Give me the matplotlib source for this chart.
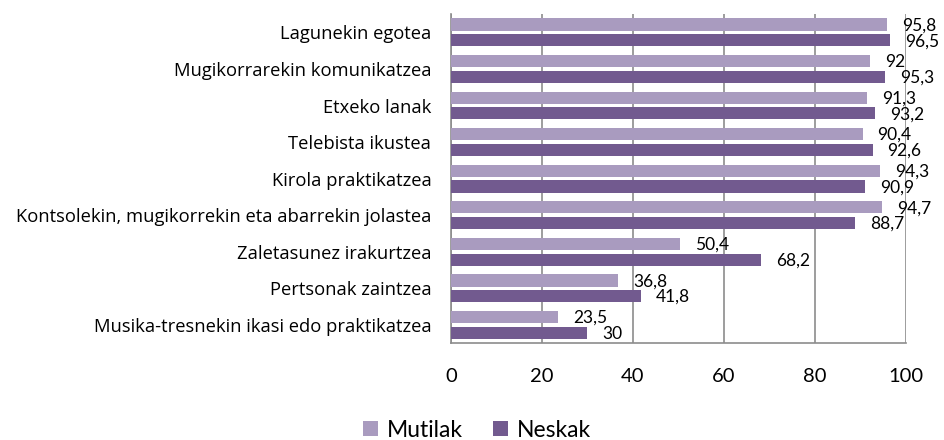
import numpy as np
import matplotlib
matplotlib.use('Agg')
import matplotlib.pyplot as plt

plt.rcParams['font.family'] = ['Lato', 'DejaVu Sans']

categories = ['Lagunekin egotea', 'Mugikorrarekin komunikatzea', 'Etxeko lanak',
              'Telebista ikustea', 'Kirola praktikatzea',
              'Kontsolekin, mugikorrekin eta abarrekin jolastea',
              'Zaletasunez irakurtzea', 'Pertsonak zaintzea',
              'Musika-tresnekin ikasi edo praktikatzea']
mutilak = [95.8, 92, 91.3, 90.4, 94.3, 94.7, 50.4, 36.8, 23.5]
neskak = [96.5, 95.3, 93.2, 92.6, 90.9, 88.7, 68.2, 41.8, 30]
mutilakLabels = ['95,8', '92', '91,3', '90,4', '94,3', '94,7', '50,4', '36,8', '23,5']
neskakLabels = ['96,5', '95,3', '93,2', '92,6', '90,9', '88,7', '68,2', '41,8', '30']

lightColor = '#A99BBF'
darkColor = '#725A8F'

fig = plt.figure(figsize=(9.45, 4.4), dpi=100)
ax = fig.add_axes([0.477, 0.22, 0.482, 0.748])

y = np.arange(len(categories))
h = 0.33
ax.barh(y - 0.215, mutilak, height=h, color=lightColor, label='Mutilak', zorder=3)
ax.barh(y + 0.215, neskak, height=h, color=darkColor, label='Neskak', zorder=3)

for yi, v, lab in zip(y, mutilak, mutilakLabels):
    ax.annotate(lab, (v, yi - 0.19), xytext=(15, 0), textcoords='offset pixels',
                va='center', ha='left', fontsize=12.5, zorder=4)
for yi, v, lab in zip(y, neskak, neskakLabels):
    ax.annotate(lab, (v, yi + 0.24), xytext=(15, 0), textcoords='offset pixels',
                va='center', ha='left', fontsize=12.5, zorder=4)

ax.set_ylim(len(categories) - 0.5, -0.5)
ax.set_xlim(0, 100)
ax.set_xticks([0, 20, 40, 60, 80, 100])
ax.set_yticks(y)
ax.set_yticklabels(categories, fontsize=13.2, family=['Open Sans', 'DejaVu Sans'])
ax.tick_params(axis='x', length=0, pad=18, labelsize=14.5)
ax.tick_params(axis='y', length=0, pad=14)

ax.grid(axis='x', color='#8c8c8c', linewidth=1.2, zorder=0)
for side in ['top', 'right']:
    ax.spines[side].set_visible(False)
for side in ['left', 'bottom']:
    ax.spines[side].set_color('#8c8c8c')
    ax.spines[side].set_linewidth(1.2)

fig.legend(loc='center', bbox_to_anchor=(0.505, 0.022), ncol=2, frameon=False,
           fontsize=16.5, handlelength=0.65, handleheight=0.65, handletextpad=0.4,
           columnspacing=1.3)

fig.savefig('out.png', dpi=100)
